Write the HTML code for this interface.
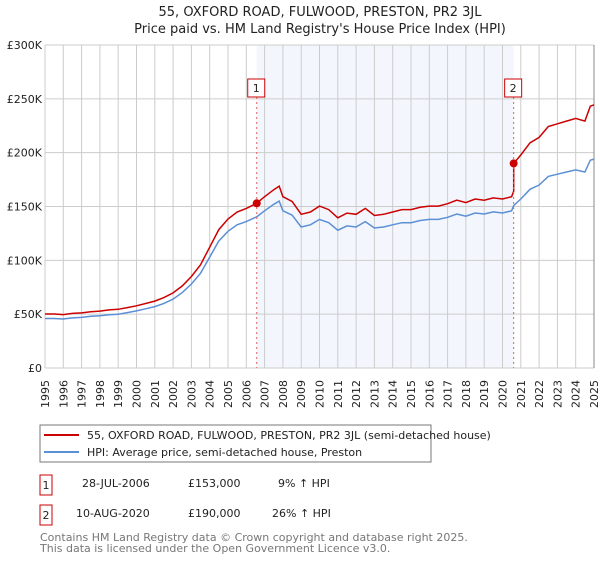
<!DOCTYPE html>
<html><head><meta charset="utf-8"><style>
body{margin:0;background:#fff;font-family:"DejaVu Sans","Liberation Sans",sans-serif;}
svg text{font-family:"DejaVu Sans","Liberation Sans",sans-serif;}
</style></head><body>
<svg id="c" width="600" height="560" viewBox="0 0 600 560">
<text x="320" y="16" text-anchor="middle" font-size="13" fill="#222">55, OXFORD ROAD, FULWOOD, PRESTON, PR2 3JL</text>
<text x="320" y="33" text-anchor="middle" font-size="13" fill="#222">Price paid vs. HM Land Registry's House Price Index (HPI)</text>
<g id="plot"></g>
<rect x="40" y="425" width="391" height="37" fill="#fff" stroke="#777"/>
<line x1="44" y1="435" x2="79" y2="435" stroke="#cc0000" stroke-width="2"/>
<text x="87" y="439" font-size="11" fill="#222">55, OXFORD ROAD, FULWOOD, PRESTON, PR2 3JL (semi-detached house)</text>
<line x1="44" y1="452" x2="79" y2="452" stroke="#5b8fd6" stroke-width="2"/>
<text x="87" y="456" font-size="11" fill="#222">HPI: Average price, semi-detached house, Preston</text>
<rect x="40" y="475" width="12" height="20" fill="#fff" stroke="#cc0000"/>
<text x="46" y="489" text-anchor="middle" font-size="11" fill="#222">1</text>
<text x="82" y="487" font-size="11" fill="#222">28-JUL-2006</text>
<text x="188" y="487" font-size="11" fill="#222">£153,000</text>
<text x="278" y="487" font-size="11" fill="#222">9% ↑ HPI</text>
<rect x="40" y="505" width="12" height="20" fill="#fff" stroke="#cc0000"/>
<text x="46" y="519" text-anchor="middle" font-size="11" fill="#222">2</text>
<text x="76" y="517" font-size="11" fill="#222">10-AUG-2020</text>
<text x="188" y="517" font-size="11" fill="#222">£190,000</text>
<text x="272" y="517" font-size="11" fill="#222">26% ↑ HPI</text>
<text x="40" y="541" font-size="11" fill="#777">Contains HM Land Registry data © Crown copyright and database right 2025.</text>
<text x="40" y="552" font-size="11" fill="#777">This data is licensed under the Open Government Licence v3.0.</text>
</svg>
<script>
const hpiDates=[1995,1995.5,1996,1996.5,1997,1997.5,1998,1998.5,1999,1999.5,2000,2000.5,2001,2001.5,2002,2002.5,2003,2003.5,2004,2004.5,2005,2005.5,2006,2006.57,2007,2007.5,2007.8,2008,2008.5,2009,2009.5,2010,2010.5,2011,2011.5,2012,2012.5,2013,2013.5,2014,2014.5,2015,2015.5,2016,2016.5,2017,2017.5,2018,2018.5,2019,2019.5,2020,2020.5,2020.61,2021,2021.5,2022,2022.5,2023,2023.5,2024,2024.5,2024.8,2025];
const hpiValues=[46,46,45.5,46.5,47,48,48.5,49.5,50,51.5,53,55,57,60,64,70,78,88,103,118,127,133,136,140.4,146,152,155,146,142,131,133,138,135,128,132,131,136,130,131,133,135,135,137,138,138,140,143,141,144,143,145,144,146,150.8,157,166,170,178,180,182,184,182,193,194];
const saleDates=[2006.57,2020.61];
const salePrices=[153,190];
const yTicks=[0,50,100,150,200,250,300];
const yTickLabels=["£0","£50K","£100K","£150K","£200K","£250K","£300K"];
const xYears=[];for(let y=1995;y<=2025;y++)xYears.push(y);

const X0=45,X1=594,Y0=368,Y1=45;
const xs=t=>X0+(t-1995)/30*(X1-X0);
const ys=v=>Y0-v/300*(Y0-Y1);
const NS="http://www.w3.org/2000/svg";
const g=document.getElementById('plot');
function mk(tag,attrs){const e=document.createElementNS(NS,tag);for(const k in attrs)e.setAttribute(k,attrs[k]);g.appendChild(e);return e;}

let e=mk('rect',{x:xs(saleDates[0]),y:Y1,width:xs(saleDates[1])-xs(saleDates[0]),height:Y0-Y1,fill:'#eef3fc',opacity:0.7});


xYears.forEach(y=>{
  const l=mk('line',{x1:xs(y),x2:xs(y),y1:Y1,y2:Y0,stroke:'#ccc','stroke-width':1});
  
  
  const t=mk('text',{transform:`translate(${xs(y)+4},${Y0+12}) rotate(-90)`,'text-anchor':'end','font-size':11,fill:'#222'});
  t.textContent=y;
  
  
});
yTicks.forEach((v,i)=>{
  const l=mk('line',{x1:X0,x2:X1,y1:ys(v),y2:ys(v),stroke:'#ccc','stroke-width':1});
  
  
  const t=mk('text',{x:X0-3,y:ys(v)+4,'text-anchor':'end','font-size':11,fill:'#222'});
  t.textContent=yTickLabels[i];
  
  
});
e=mk('line',{x1:X1,x2:X1,y1:Y1,y2:Y0,stroke:'#888','stroke-width':1});



function hpiAt(t){for(let i=0;i<hpiDates.length-1;i++){if(t>=hpiDates[i]&&t<=hpiDates[i+1]){const f=(t-hpiDates[i])/(hpiDates[i+1]-hpiDates[i]);return hpiValues[i]+f*(hpiValues[i+1]-hpiValues[i]);}}return hpiValues[hpiValues.length-1];}
const r1=salePrices[0]/hpiAt(saleDates[0]), r2=salePrices[1]/hpiAt(saleDates[1]);
const redPts=[];
hpiDates.forEach((t,i)=>{
  if(t<saleDates[1]) redPts.push([t,hpiValues[i]*r1]);
  else { if(t===saleDates[1]) redPts.push([t,hpiValues[i]*r1]); redPts.push([t,hpiValues[i]*r2]); }
});
const blueD=hpiDates.map((t,i)=>(i?'L':'M')+xs(t).toFixed(1)+','+ys(hpiValues[i]).toFixed(1)).join('');
const redD=redPts.map((p,i)=>(i?'L':'M')+xs(p[0]).toFixed(1)+','+ys(p[1]).toFixed(1)).join('');
e=mk('path',{d:blueD,fill:'none',stroke:'#5b8fd6','stroke-width':1.5});


e=mk('path',{d:redD,fill:'none',stroke:'#cc0000','stroke-width':1.5});



saleDates.forEach((t,i)=>{
  const x=xs(t);
  const l=mk('line',{x1:x,x2:x,y1:Y1+52,y2:Y0,stroke:'#e06060','stroke-width':1,'stroke-dasharray':'2,3'});
  
  
  const b=mk('rect',{x:x-9,y:79,width:17,height:18,fill:'#fff',stroke:'#cc0000'});
  
  
  const tx=mk('text',{x:x-0.5,y:92,'text-anchor':'middle','font-size':11,fill:'#222'});
  tx.textContent=String(i+1);
  
  
  const c=mk('circle',{cx:x,cy:ys(salePrices[i]),r:4,fill:'#cc0000'});
  
  
});
</script>
</body></html>
